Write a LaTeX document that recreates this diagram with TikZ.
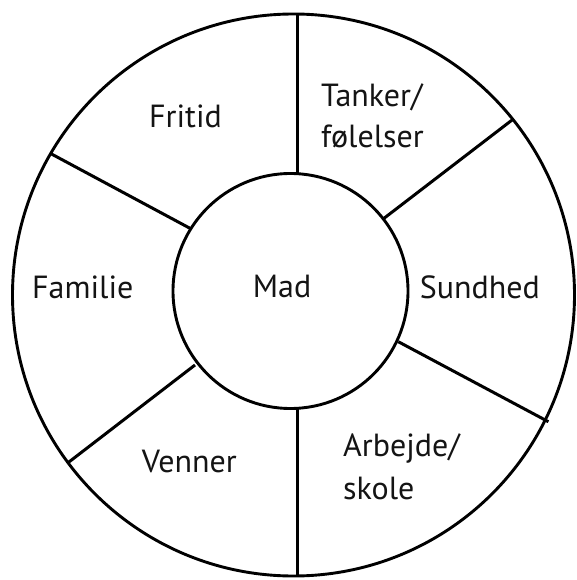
\documentclass[tikz,border=0pt]{standalone}
\usepackage{fontspec}
\setmainfont{PT Sans}
\begin{document}
\begin{tikzpicture}[x=1pt,y=-1pt,
  ring/.style={draw=black,line width=2.9pt,circle,inner sep=0pt},
  spoke/.style={draw=black,line width=3pt},
  lbl/.style={inner sep=0pt,font=\fontsize{32}{38}\selectfont,text=black!92}]
\useasboundingbox (0,0) rectangle (577,580);
\fill[white] (0,0) rectangle (577,580);
\node[ring,minimum size=562pt] (outer) at (293.5,295) {};
\node[ring,minimum size=235pt] (inner) at (290.5,291) {};
% spoke end points
\coordinate (tin) at (297,174.5);
\coordinate (tout) at (297,13);
\coordinate (bin) at (297,407.5);
\coordinate (bout) at (297,577);
\coordinate (ulin) at (190,228.3);
\coordinate (ulout) at (51.5,154);
\coordinate (urin) at (384,218.3);
\coordinate (urout) at (513,119.3);
\coordinate (lrin) at (398.3,341.7);
\coordinate (lrout) at (548.4,421.7);
\coordinate (llin) at (195,365);
\coordinate (llout) at (68,462.7);
\draw[spoke] (tin) -- (tout);
\draw[spoke] (bin) -- (bout);
\draw[spoke] (ulin) -- (ulout);
\draw[spoke] (urin) -- (urout);
\draw[spoke] (lrin) -- (lrout);
\draw[spoke] (llin) -- (llout);
% labels
\node[lbl,anchor=base west] (mad) at (252.7,297.7) {Mad};
\node[lbl,anchor=base west] (fritid) at (149,127.7) {Fritid};
\node[lbl,anchor=base west] (tanker1) at (321,107) {Tanker/};
\node[lbl,anchor=base west] (tanker2) at (321,148) {følelser};
\node[lbl,anchor=base west] (familie) at (32,298.3) {Familie};
\node[lbl,anchor=base west] (sundhed) at (419.6,298) {Sundhed};
\node[lbl,anchor=base west] (venner) at (141.7,472.7) {Venner};
\node[lbl,anchor=base west] (arbejde1) at (343,456.7) {Arbejde/};
\node[lbl,anchor=base west] (arbejde2) at (343,499) {skole};
\end{tikzpicture}
\end{document}
